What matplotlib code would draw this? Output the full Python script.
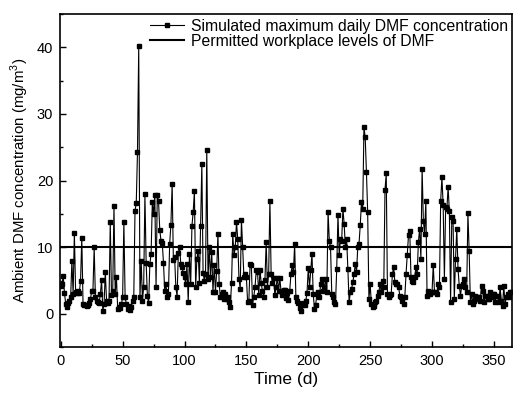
import matplotlib
matplotlib.use("Agg")
import matplotlib.pyplot as plt
from matplotlib.ticker import MultipleLocator

plt.rcParams['font.family'] = ['Liberation Sans', 'DejaVu Sans']
plt.rcParams['mathtext.fontset'] = 'custom'
plt.rcParams['mathtext.rm'] = 'Liberation Sans'

series_label = "Simulated maximum daily DMF concentration"
limit_label = "Permitted workplace levels of DMF"
x_label = "Time (d)"
y_label = "Ambient DMF concentration (mg/m$^3$)"
permitted_level = 10

conc = [
    # 0-52
    4.2, 4.5, 5.7, 3.2, 1.5, 1.0, 1.7, 2.0, 2.5, 8.0,
    3.0, 12.2, 3.3, 3.2, 3.4, 3.2, 5.0, 11.4, 1.5, 1.4,
    1.3, 1.2, 1.3, 1.6, 2.2, 3.5, 3.5, 10.0, 2.5, 2.0,
    1.8, 1.6, 3.0, 5.1, 0.5, 1.5, 6.3, 2.0, 1.7, 2.0,
    13.8, 2.8, 3.5, 16.2, 3.0, 5.5, 0.8, 1.0, 0.9, 1.5,
    2.5, 13.8, 2.5,
    # 53-104
    1.5, 0.8, 1.2, 0.6, 1.0, 2.0, 2.5, 15.5, 16.6, 24.3,
    40.2, 2.6, 8.0, 2.0, 4.0, 18.0, 7.7, 2.7, 1.6, 7.5,
    9.0, 16.8, 15.0, 17.8, 4.0, 17.8, 17.0, 12.6, 11.0, 10.7,
    7.7, 3.5, 4.5, 2.6, 3.0, 10.5, 13.4, 19.5, 8.1, 8.5,
    4.0, 2.6, 9.1, 10.1, 7.5, 7.0, 6.2, 5.5, 4.5, 7.5,
    1.8, 9.0,
    # 105-154
    4.5, 13.2, 15.3, 18.4, 4.0, 8.3, 9.5, 4.7, 13.2, 22.5,
    6.2, 5.0, 6.0, 24.6, 5.3, 10.0, 5.5, 9.3, 3.3, 7.3,
    3.3, 6.5, 12.0, 4.5, 2.5, 3.0, 3.3, 2.3, 3.0, 2.3,
    2.5, 1.8, 1.1, 4.6, 12.0, 8.8, 10.0, 13.8, 11.3, 5.3,
    3.8, 14.1, 10.0, 5.5, 6.0, 5.5, 1.8, 2.0, 7.5, 7.3,
    # 155-206
    1.4, 2.6, 4.1, 6.6, 6.3, 2.8, 6.6, 4.6, 3.4, 2.6,
    5.1, 10.8, 4.1, 6.0, 17.0, 6.0, 4.6, 5.4, 2.8, 4.1,
    5.4, 3.5, 5.4, 3.4, 2.8, 3.6, 3.6, 2.4, 3.1, 2.1,
    3.4, 6.0, 7.3, 6.3, 10.5, 2.5, 2.0, 1.7, 0.9, 0.4,
    1.4, 1.6, 1.4, 1.9, 3.2, 6.9, 4.0, 6.6, 9.0, 3.0,
    0.8, 1.4,
    # 207-258
    3.0, 3.25, 2.5, 4.5, 5.25, 3.5, 4.0, 5.25, 3.25, 15.3,
    11.0, 10.0, 3.0, 2.5, 1.75, 1.5, 6.8, 14.9, 8.8, 11.3,
    11.0, 15.8, 13.5, 10.0, 11.3, 6.8, 1.75, 3.25, 3.75, 4.75,
    6.0, 7.5, 6.3, 10.0, 10.5, 13.3, 16.8, 15.8, 28.0, 26.5,
    21.3, 15.3, 2.25, 4.5, 1.5, 1.0, 1.25, 1.75, 2.0, 2.75,
    3.25, 4.5,
    # 259-310
    3.25, 5.0, 4.0, 18.6, 21.1, 3.0, 2.5, 2.8, 3.0, 6.0,
    7.0, 4.75, 4.5, 4.5, 4.0, 2.75, 2.5, 2.0, 1.5, 2.5,
    6.0, 8.9, 11.8, 12.5, 5.5, 5.0, 4.75, 5.5, 7.0, 6.0,
    10.8, 12.8, 8.3, 21.8, 14.0, 12.0, 17.0, 2.75, 3.5, 3.0,
    3.25, 3.25, 7.4, 3.25, 3.25, 3.0, 4.5, 4.0, 17.0, 20.5,
    16.4, 5.25,
    # 311-364
    16.0, 15.8, 19.0, 15.5, 1.75, 14.5, 14.0, 2.25, 8.25, 12.8,
    6.8, 4.25, 2.75, 4.25, 4.5, 5.25, 4.0, 3.25, 15.1, 9.5,
    1.75, 3.0, 1.5, 2.0, 2.75, 2.25, 2.5, 2.5, 2.0, 4.25,
    3.5, 1.75, 2.75, 2.75, 2.25, 2.25, 3.25, 2.5, 3.0, 3.0,
    1.75, 2.75, 2.75, 1.75, 4.0, 2.0, 1.25, 4.25, 1.5, 2.5,
    3.0, 2.5, 3.25, 3.25,
]
days = list(range(len(conc)))

fig = plt.figure(figsize=(5.14, 3.94), dpi=100)
ax = fig.add_axes([0.117, 0.1185, 0.880, 0.846])

ax.plot(days, conc, color='black', linewidth=0.8, marker='s', markersize=3.3,
        markerfacecolor='black', markeredgecolor='black', label=series_label)
ax.axhline(permitted_level, color='black', linewidth=1.5, label=limit_label)

ax.set_xlim(-0.5, 365)
ax.set_ylim(-5, 45)
ax.xaxis.set_major_locator(MultipleLocator(50))
ax.xaxis.set_minor_locator(MultipleLocator(25))
ax.yaxis.set_major_locator(MultipleLocator(10))
ax.yaxis.set_minor_locator(MultipleLocator(5))
ax.tick_params(which='both', direction='in', labelsize=10.5, pad=5)
ax.tick_params(which='major', length=4, width=1)
ax.tick_params(which='minor', length=2.5, width=1)
for s in ax.spines.values():
    s.set_linewidth(1.2)

ax.set_xlabel(x_label, fontsize=12.5, labelpad=3)
ax.set_ylabel(y_label, fontsize=10.8, labelpad=4)

ax.legend(loc='upper right', frameon=False, fontsize=11.3, handlelength=2.2,
          borderaxespad=0.0, borderpad=0.3, labelspacing=0.0, handletextpad=0.4)

fig.savefig("out.png", dpi=100)
